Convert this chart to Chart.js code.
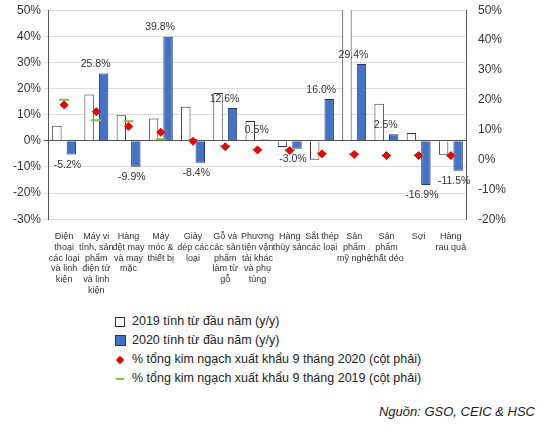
<!DOCTYPE html>
<html><head><meta charset="utf-8">
<script src="https://cdn.jsdelivr.net/npm/chart.js@4"></script>
<style>
body{margin:0;background:#fff;font-family:Arial,"Liberation Sans",sans-serif;}
#wrap{position:relative;width:549px;height:300px;}
#legend{position:absolute;left:112px;top:312px;font-size:12.5px;color:#222;line-height:19px;}
.it{display:flex;align-items:center;}
.sw{width:16px;display:inline-flex;justify-content:center;align-items:center;margin-right:4px;}
#src{position:absolute;right:14px;top:404px;font-style:italic;font-size:13px;color:#222;}
</style></head><body>
<div id="wrap"><canvas id="c" width="549" height="300"></canvas></div>
<div id="legend">
<div class="it"><span class="sw"><span style="width:8px;height:8px;border:1px solid #333;"></span></span>2019 tính từ đầu năm (y/y)</div>
<div class="it"><span class="sw"><span style="width:9px;height:9px;background:#4472C4;border:1px solid #1f3a6b"></span></span>2020 tính từ đầu năm (y/y)</div>
<div class="it"><span class="sw"><span style="width:6px;height:6px;background:#e00;transform:rotate(45deg)"></span></span>% tổng kim ngạch xuất khẩu 9 tháng 2020 (cột phải)</div>
<div class="it"><span class="sw"><span style="width:8px;height:2px;background:#7cc142"></span></span>% tổng kim ngạch xuất khẩu 9 tháng 2019 (cột phải)</div>
</div>
<div id="src">Nguồn: GSO, CEIC &amp; HSC</div>
<script>
const categories=[["Điện","thoại","các loại","và linh","kiện"],["Máy vi","tính, sản","phẩm","điện tử","và linh","kiện"],["Hàng","dệt may","và may","mặc"],["Máy","móc &","thiết bị"],["Giày","dép các","loại"],["Gỗ và","các sản","phẩm","làm từ","gỗ"],["Phương","tiện vận","tải khác","và phụ","tùng"],["Hàng","thủy sản"],["Sắt thép","các loại"],["Sản","phẩm","mỹ nghệ"],["Sản","phẩm","chất dẻo"],["Sợi"],["Hàng","rau quả"]];
const ytd2019=[5.8,17.7,9.8,8.5,13,18.3,7.6,-2.4,-7.2,60,14.2,3,-5.3];
const ytd2020=[-5.2,25.8,-9.9,39.8,-8.4,12.6,0.5,-3.0,16.0,29.4,2.5,-16.9,-11.5];
const share2020=[18.3,16,11.1,9.1,6.1,4.3,3.2,3.0,1.9,1.7,1.3,1.3,1.3];
const share2019=[20,13.1,12.8,6.8,6.5,4.5,3.3,3.3,2,1.8,1.3,1.5,1.3];
const leftTicks=[-30,-20,-10,0,10,20,30,40,50];
const rightTicks=[-20,-10,0,10,20,30,40,50];
const labelPlugin={id:'lbl',afterDatasetsDraw(ch){const ctx=ch.ctx;const m=ch.getDatasetMeta(1);ctx.save();ctx.font='10.5px Arial';ctx.fillStyle='#333';ctx.textAlign='center';
m.data.forEach((b,i)=>{const v=ytd2020[i];ctx.textBaseline=v>=0?'bottom':'top';ctx.fillText(v.toFixed(1)+'%',b.x-(v<0?4:8),v>=0?b.y-4:b.y+5);});ctx.restore();}};
new Chart(document.getElementById('c'),{
data:{labels:categories,datasets:[
{type:'bar',data:ytd2019,backgroundColor:'#fff',borderColor:'#333',borderWidth:1,yAxisID:'y',barPercentage:0.65,categoryPercentage:0.9,order:3},
{type:'bar',data:ytd2020,backgroundColor:'#4472C4',borderColor:'#1f3a6b',borderWidth:1,yAxisID:'y',barPercentage:0.65,categoryPercentage:0.9,order:3},
{type:'line',data:share2019,showLine:false,pointStyle:'line',pointRadius:5,borderColor:'#7cc142',borderWidth:2,backgroundColor:'#7cc142',yAxisID:'y1',order:2},
{type:'line',data:share2020,showLine:false,pointStyle:'rectRot',pointRadius:4,borderColor:'#e00',backgroundColor:'#e00',borderWidth:1,yAxisID:'y1',order:1}
]},
options:{responsive:false,animation:false,layout:{padding:{top:8,right:40,left:10,bottom:0}},
plugins:{legend:{display:false},tooltip:{enabled:false}},
scales:{
x:{grid:{display:false},border:{display:false},ticks:{autoSkip:false,maxRotation:0,font:{size:9,family:'Arial'},color:'#333',padding:4}},
y:{position:'left',min:-30,max:50,afterBuildTicks:a=>{a.ticks=leftTicks.map(v=>({value:v}))},ticks:{callback:v=>v+'%',font:{size:12,family:'Arial'},color:'#333'},grid:{color:c=>c.tick.value===0?'#555':'#ddd',lineWidth:1,tickLength:4,borderDash:[3,3]},border:{color:'#555'}},
y1:{position:'right',min:-20,max:50,afterBuildTicks:a=>{a.ticks=rightTicks.map(v=>({value:v}))},ticks:{callback:v=>v+'%',font:{size:12,family:'Arial'},color:'#333'},grid:{display:false,drawOnChartArea:false},border:{color:'#555'}}
}},plugins:[labelPlugin]});
</script></body></html>
